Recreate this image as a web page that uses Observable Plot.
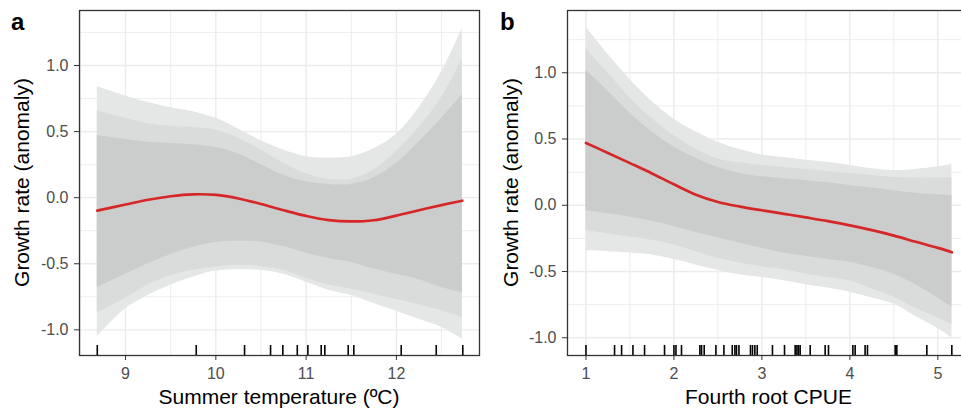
<!DOCTYPE html>
<html><head><meta charset="utf-8">
<script src="https://cdn.jsdelivr.net/npm/d3@7"></script>
<script src="https://cdn.jsdelivr.net/npm/@observablehq/plot@0.6"></script>
<style>
html,body{margin:0;padding:0;background:#fff;overflow:hidden}
#wrap{position:relative;width:961px;height:411px;overflow:hidden;font-family:"Liberation Sans",Arial,sans-serif}
.pane{position:absolute;top:0}
.pane svg{max-width:none !important}
</style></head><body><div id="wrap"></div>
<script>
// ---------- Panel a: Summer temperature ----------
const xA      = [8.687, 9.0, 9.25, 9.5, 9.75, 10.0, 10.25, 10.5, 10.75, 11.0, 11.25, 11.5, 11.75, 12.0, 12.25, 12.5, 12.73];
const fitA    = [-0.098, -0.052, -0.016, 0.011, 0.025, 0.021, -0.006, -0.048, -0.095, -0.138, -0.170, -0.180, -0.171, -0.136, -0.095, -0.056, -0.023];
const hiOuterA= [0.84, 0.77, 0.72, 0.68, 0.65, 0.60, 0.52, 0.43, 0.36, 0.31, 0.30, 0.31, 0.37, 0.48, 0.68, 0.95, 1.28];
const hiMidA  = [0.66, 0.60, 0.56, 0.54, 0.53, 0.51, 0.45, 0.36, 0.26, 0.18, 0.14, 0.14, 0.21, 0.35, 0.53, 0.76, 1.05];
const hiInA   = [0.47, 0.44, 0.42, 0.41, 0.40, 0.38, 0.33, 0.25, 0.17, 0.12, 0.10, 0.10, 0.15, 0.26, 0.42, 0.60, 0.78];
const loInA   = [-0.68, -0.58, -0.50, -0.43, -0.375, -0.34, -0.33, -0.335, -0.37, -0.42, -0.46, -0.49, -0.54, -0.58, -0.62, -0.68, -0.72];
const loMidA  = [-0.87, -0.76, -0.66, -0.59, -0.55, -0.525, -0.51, -0.52, -0.55, -0.61, -0.66, -0.69, -0.73, -0.77, -0.81, -0.855, -0.905];
const loOuterA= [-1.05, -0.84, -0.74, -0.66, -0.60, -0.555, -0.545, -0.55, -0.58, -0.64, -0.70, -0.74, -0.80, -0.86, -0.92, -0.98, -1.07];
const rugA    = [8.687, 9.783, 10.318, 10.606, 10.742, 10.902, 11.019, 11.167, 11.207, 11.466, 11.528, 12.053, 12.441, 12.735];
const xTicksA = [9, 10, 11, 12];
const xMinorA = [8.5, 9.5, 10.5, 11.5, 12.5];

// ---------- Panel b: Fourth root CPUE ----------
const xB      = [1.0, 1.25, 1.5, 1.75, 2.0, 2.25, 2.5, 2.75, 3.0, 3.25, 3.5, 3.75, 4.0, 4.25, 4.5, 4.75, 5.0, 5.16];
const fitB    = [0.47, 0.395, 0.318, 0.24, 0.158, 0.08, 0.025, -0.01, -0.038, -0.065, -0.092, -0.12, -0.152, -0.188, -0.229, -0.276, -0.322, -0.355];
const hiOuterB= [1.345, 1.14, 0.95, 0.785, 0.65, 0.555, 0.475, 0.42, 0.38, 0.36, 0.34, 0.325, 0.30, 0.275, 0.262, 0.27, 0.29, 0.31];
const hiMidB  = [1.18, 1.0, 0.81, 0.655, 0.525, 0.425, 0.35, 0.32, 0.30, 0.285, 0.27, 0.255, 0.24, 0.225, 0.21, 0.205, 0.205, 0.21];
const hiInB   = [1.02, 0.86, 0.695, 0.555, 0.44, 0.355, 0.285, 0.24, 0.215, 0.20, 0.185, 0.17, 0.15, 0.13, 0.11, 0.09, 0.08, 0.073];
const loInB   = [-0.04, -0.065, -0.09, -0.12, -0.16, -0.205, -0.245, -0.285, -0.325, -0.36, -0.385, -0.41, -0.43, -0.47, -0.52, -0.60, -0.70, -0.77];
const loMidB  = [-0.19, -0.215, -0.24, -0.265, -0.30, -0.35, -0.40, -0.435, -0.465, -0.485, -0.52, -0.545, -0.57, -0.63, -0.695, -0.78, -0.85, -0.90];
const loOuterB= [-0.343, -0.35, -0.36, -0.375, -0.41, -0.45, -0.49, -0.525, -0.545, -0.57, -0.60, -0.625, -0.657, -0.70, -0.746, -0.84, -0.93, -1.0];
const rugB    = [1.0, 1.325, 1.405, 1.534, 1.666, 1.893, 2.0, 2.023, 2.086, 2.295, 2.314, 2.344, 2.477, 2.568, 2.663, 2.693, 2.711, 2.739, 2.87, 2.893, 2.92, 2.947, 3.12, 3.257, 3.378, 3.398, 3.416, 3.435, 3.549, 3.719, 3.757, 4.034, 4.06, 4.173, 4.2, 4.515, 4.534, 4.875, 5.159];
const xTicksB = [1, 2, 3, 4, 5];
const xMinorB = [1.5, 2.5, 3.5, 4.5];

// ---------- shared ----------
const yTicks = [-1, -0.5, 0, 0.5, 1];
const yMinor = [-0.75, -0.25, 0.25, 0.75, 1.25];
const yLabel = "Growth rate (anomaly)";
const xLabelA = "Summer temperature (ºC)";
const xLabelB = "Fourth root CPUE";
const panelLetters = ["a", "b"];

const FONT = '"Liberation Sans", Arial, sans-serif';

function panel(o) {
  const rows = o.x.map((v, i) => ({
    x: v, fit: o.fit[i],
    hi3: o.hi3[i], hi2: o.hi2[i], hi1: o.hi1[i],
    lo1: o.lo1[i], lo2: o.lo2[i], lo3: o.lo3[i]
  }));
  const curve = "catmull-rom";
  return Plot.plot({
    width: o.width, height: 411,
    marginLeft: o.marginLeft, marginRight: o.marginRight, marginTop: 10, marginBottom: 56,
    style: {fontFamily: FONT, fontSize: "16px", color: "#4D4D4D", background: "transparent", maxWidth: "none"},
    x: {domain: o.xDomain},
    y: {domain: o.yDomain},
    marks: [
      Plot.ruleX(o.xMinor, {stroke: "#EBEBEB", strokeWidth: 0.9}),
      Plot.ruleY(yMinor, {stroke: "#EBEBEB", strokeWidth: 0.9}),
      Plot.ruleX(o.xTicks, {stroke: "#EBEBEB", strokeWidth: 1.4}),
      Plot.ruleY(yTicks, {stroke: "#EBEBEB", strokeWidth: 1.4}),
      Plot.areaY(rows, {x: "x", y1: "lo3", y2: "hi3", fill: "#E5E6E6", curve}),
      Plot.areaY(rows, {x: "x", y1: "lo2", y2: "hi2", fill: "#DADBDB", curve}),
      Plot.areaY(rows, {x: "x", y1: "lo1", y2: "hi1", fill: "#CBCCCC", curve}),
      Plot.line(rows, {x: "x", y: "fit", stroke: "#D62728", strokeWidth: 2.7, curve}),
      Plot.ruleX(o.rug, {stroke: "#000", strokeWidth: 1.6, insetTop: 335}),
      Plot.frame({stroke: "#333333", strokeWidth: 1.3}),
      Plot.axisX(o.xTicks, {tickSize: 5, tickPadding: 7, fontSize: 16, tickFormat: d => String(d), label: null, stroke: "#333333"}),
      Plot.axisY(yTicks, {tickSize: 5, tickPadding: 6, fontSize: 16, tickFormat: d => d.toFixed(1), label: null, stroke: "#333333"})
    ]
  });
}

const wrap = document.getElementById("wrap");

const pa = panel({
  x: xA, fit: fitA, hi3: hiOuterA, hi2: hiMidA, hi1: hiInA, lo1: loInA, lo2: loMidA, lo3: loOuterA,
  rug: rugA, xTicks: xTicksA, xMinor: xMinorA,
  xDomain: [8.49, 12.92], yDomain: [-1.194, 1.416],
  width: 481, marginLeft: 79, marginRight: 2
});
const da = document.createElement("div"); da.className = "pane"; da.style.left = "0px"; da.style.width = "481px"; da.appendChild(pa); wrap.appendChild(da);

const pb = panel({
  x: xB, fit: fitB, hi3: hiOuterB, hi2: hiMidB, hi1: hiInB, lo1: loInB, lo2: loMidB, lo3: loOuterB,
  rug: rugB, xTicks: xTicksB, xMinor: xMinorB,
  xDomain: [0.79, 5.36], yDomain: [-1.134, 1.47],
  width: 495, marginLeft: 87, marginRight: 6
});
const db = document.createElement("div"); db.className = "pane"; db.style.left = "480px"; db.style.width = "495px"; db.appendChild(pb); wrap.appendChild(db);

// titles overlay
const ov = d3.select(wrap).append("svg")
  .attr("width", 961).attr("height", 411)
  .style("position", "absolute").style("left", 0).style("top", 0)
  .style("font-family", FONT);

ov.append("text").attr("x", 11).attr("y", 30).attr("font-size", 24).attr("font-weight", "bold").attr("fill", "#000").text(panelLetters[0]);
ov.append("text").attr("x", 500).attr("y", 30).attr("font-size", 24).attr("font-weight", "bold").attr("fill", "#000").text(panelLetters[1]);

ov.append("text").attr("transform", "translate(29,182.5) rotate(-90)").attr("text-anchor", "middle")
  .attr("font-size", 21).attr("fill", "#000").text(yLabel);
ov.append("text").attr("transform", "translate(518,182.5) rotate(-90)").attr("text-anchor", "middle")
  .attr("font-size", 21).attr("fill", "#000").text(yLabel);

ov.append("text").attr("x", 279).attr("y", 404).attr("text-anchor", "middle")
  .attr("font-size", 21).attr("fill", "#000").text(xLabelA);
ov.append("text").attr("x", 768.5).attr("y", 404).attr("text-anchor", "middle")
  .attr("font-size", 21).attr("fill", "#000").text(xLabelB);
</script>
</body></html>
